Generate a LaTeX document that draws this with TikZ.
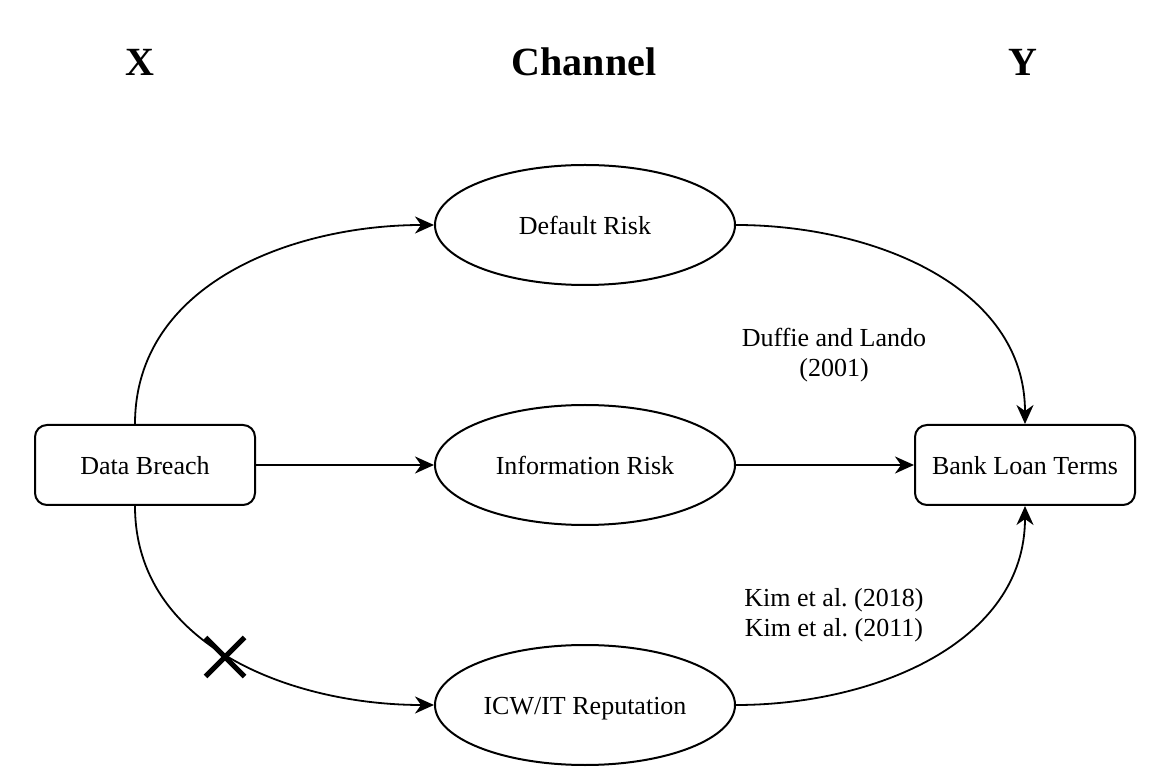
\documentclass[tikz,border=0pt]{standalone}
\usepackage{fontspec}
\setmainfont{Liberation Serif}
\usetikzlibrary{shapes.geometric,shapes.misc,arrows.meta}

\tikzset{
  box/.style={draw, rounded corners=6pt, line width=1pt, minimum width=110pt, minimum height=40pt, text height=10.5pt, text depth=1pt, font=\fontsize{13}{15.6}\selectfont},
  chan/.style={draw, ellipse, line width=1pt, inner xsep=0pt, minimum width=150pt, minimum height=60pt, text height=10.5pt, text depth=1pt, font=\fontsize{13}{15.6}\selectfont},
  head/.style={font=\fontsize{20}{24}\selectfont\bfseries},
  cite/.style={align=center, font=\fontsize{13}{15}\selectfont},
  link/.style={line width=0.9pt, -{Stealth[length=9.5pt,width=8.5pt,inset=3pt]}}
}

\begin{document}
\frenchspacing
\begin{tikzpicture}[x=0.5pt, y=-0.5pt]
  \useasboundingbox (0,0) rectangle (1168,780);
  % column heads
  \node[head] (hx) at (140,62) {X};
  \node[head] (hc) at (584,62) {Channel};
  \node[head] (hy) at (1023,62) {Y};
  % boxes and channels
  \node[box] (db) at (145,465) {Data Breach};
  \node[box] (blt) at (1025,465) {Bank Loan Terms};
  \node[chan] (dr) at (585,225) {Default Risk};
  \node[chan] (ir) at (585,465) {Information Risk};
  \node[chan] (icw) at (585,705) {ICW/IT Reputation};
  % citations
  \node[cite] (dl) at (834,355) {Duffie and Lando\\(2001)};
  \node[cite] (kim) at (834,615) {Kim et al. (2018)\\Kim et al. (2011)};
  % connectors
  \draw[link] ([xshift=-5pt]db.north) to[out=90, in=180] (dr.west);
  \draw[link] (dr.east) to[out=0, in=90] (blt.north);
  \draw[link] (db.east) -- (ir.west);
  \draw[link] (ir.east) -- (blt.west);
  \draw[link] ([xshift=-5pt]db.south) to[out=-90, in=180] (icw.west);
  \draw[link] (icw.east) to[out=0, in=-90] (blt.south);
  % blocked path
  \node[cross out, draw, line width=2.5pt, inner sep=0pt, minimum size=17pt] (blk) at (225,657) {};
\end{tikzpicture}
\end{document}
